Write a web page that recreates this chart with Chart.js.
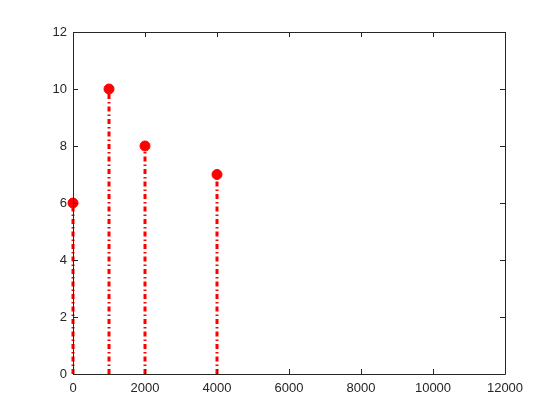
<!DOCTYPE html>
<html>
<head>
<meta charset="utf-8">
<script src="https://cdn.jsdelivr.net/npm/chart.js@4.4.1/dist/chart.umd.min.js"></script>
<style>
  html, body { margin: 0; padding: 0; background: #fff; }
</style>
</head>
<body>
<canvas id="stemChart" width="560" height="420"></canvas>
<script>
const xValues = [0, 1000, 2000, 4000];
const yValues = [6, 10, 8, 7];
const xTicks = [0, 2000, 4000, 6000, 8000, 10000, 12000];
const yTicks = [0, 2, 4, 6, 8, 10, 12];

const AXIS_COLOR = "#262626";
const STEM_COLOR = "#ff0000";

// one dash-dot stem per point, from the baseline up to the value
const stemSets = xValues.map((x, i) => ({
  type: "line",
  data: [{ x: x, y: 0 }, { x: x, y: yValues[i] }],
  borderColor: STEM_COLOR,
  borderWidth: 3,
  borderDash: [5, 3, 1.5, 3],
  pointRadius: 0,
  fill: false,
  clip: false,
}));

const markerSet = {
  type: "scatter",
  data: xValues.map((x, i) => ({ x: x, y: yValues[i] })),
  backgroundColor: STEM_COLOR,
  borderColor: STEM_COLOR,
  pointRadius: 5,
  pointHoverRadius: 5,
  clip: false,
};

// box round the plot area with inward ticks on all four sides
const boxTicks = {
  id: "boxTicks",
  afterDraw(chart) {
    const { ctx, chartArea: a, scales } = chart;
    ctx.save();
    ctx.strokeStyle = AXIS_COLOR;
    ctx.lineWidth = 1;
    ctx.beginPath();
    ctx.rect(a.left + 0.5, a.top + 0.5, a.right - a.left, a.bottom - a.top);
    xTicks.forEach((v) => {
      const px = Math.round(scales.x.getPixelForValue(v)) + 0.5;
      ctx.moveTo(px, a.bottom);
      ctx.lineTo(px, a.bottom - 5);
      ctx.moveTo(px, a.top);
      ctx.lineTo(px, a.top + 5);
    });
    yTicks.forEach((v) => {
      const py = Math.round(scales.y.getPixelForValue(v)) + 0.5;
      ctx.moveTo(a.left, py);
      ctx.lineTo(a.left + 5, py);
      ctx.moveTo(a.right, py);
      ctx.lineTo(a.right - 5, py);
    });
    ctx.stroke();
    ctx.restore();
  },
};

const tickFont = { family: "Helvetica, Arial, 'Liberation Sans', sans-serif", size: 13 };

new Chart(document.getElementById("stemChart").getContext("2d"), {
  data: { datasets: [...stemSets, markerSet] },
  options: {
    responsive: false,
    animation: false,
    layout: { padding: { top: 32, right: 55, left: 0, bottom: 0 } },
    plugins: { legend: { display: false }, tooltip: { enabled: false } },
    scales: {
      x: {
        type: "linear",
        min: 0,
        max: 12000,
        afterBuildTicks(scale) {
          scale.ticks = xTicks.map((v) => ({ value: v }));
        },
        afterFit(scale) {
          scale.height = 46;
        },
        grid: { display: false, drawTicks: false },
        border: { display: false },
        ticks: {
          color: AXIS_COLOR,
          font: tickFont,
          padding: 7,
          maxRotation: 0,
          callback: (v) => String(v),
        },
      },
      y: {
        type: "linear",
        min: 0,
        max: 12,
        afterBuildTicks(scale) {
          scale.ticks = yTicks.map((v) => ({ value: v }));
        },
        afterFit(scale) {
          scale.width = 73;
        },
        grid: { display: false, drawTicks: false },
        border: { display: false },
        ticks: { color: AXIS_COLOR, font: tickFont, padding: 6, callback: (v) => String(v) },
      },
    },
  },
  plugins: [boxTicks],
});
</script>
</body>
</html>
